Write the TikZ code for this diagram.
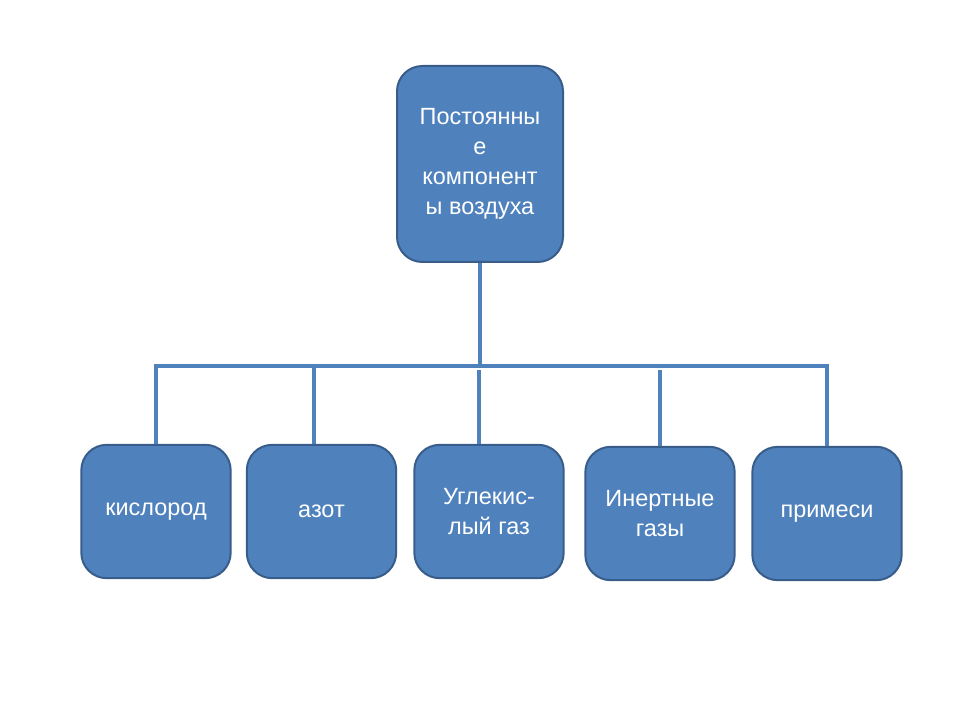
\documentclass[tikz,border=0pt]{standalone}
\usepackage{fontspec}
\setmainfont{Liberation Sans}
\usetikzlibrary{calc}
\definecolor{boxblue}{HTML}{4F81BD}
\definecolor{boxedge}{HTML}{385D8A}

\begin{document}
\begin{tikzpicture}[x=0.75pt,y=-0.75pt,
  topnode/.style={rectangle,rounded corners=19pt,fill=boxblue,draw=boxedge,line width=1.5pt,minimum width=124.5pt,minimum height=147pt,text=white,align=center,inner sep=2pt,font=\fontsize{17.6}{22.5}\selectfont},
  leafnode/.style={topnode,minimum width=112pt,minimum height=100pt},
  link/.style={draw=boxblue,line width=3pt}]

	\useasboundingbox (0,0) rectangle (960,720);

	\node[topnode] (main) at (480,164) {Постоянны\\е\\компонент\\ы воздуха};

	\node[leafnode] (kisl) at (156,511.5) {кислород};
	\node[leafnode] (azot) at (321.5,511.5) {азот};
	\node[leafnode] (ugl) at (489,511.5) {Углекис-\\лый газ};
	\node[leafnode] (inert) at (660,513.5) {Инертные\\газы};
	\node[leafnode] (prim) at (827,513.5) {примеси};

	\coordinate (bar) at (480,366);

	\draw[link] (main.south) -- (bar);
	\draw[link] (kisl.north) |- (bar) -| (prim.north);
	\draw[link] ([xshift=-5.6pt]azot.north) -- ([xshift=-5.6pt]azot.north |- bar);
	\draw[link] ($(bar)+(-1,4)$) -- ([xshift=-0.75pt]bar |- ugl.north);
	\draw[link] (inert.north) -- ($(inert.north |- bar)+(0,4)$);
\end{tikzpicture}
\end{document}
